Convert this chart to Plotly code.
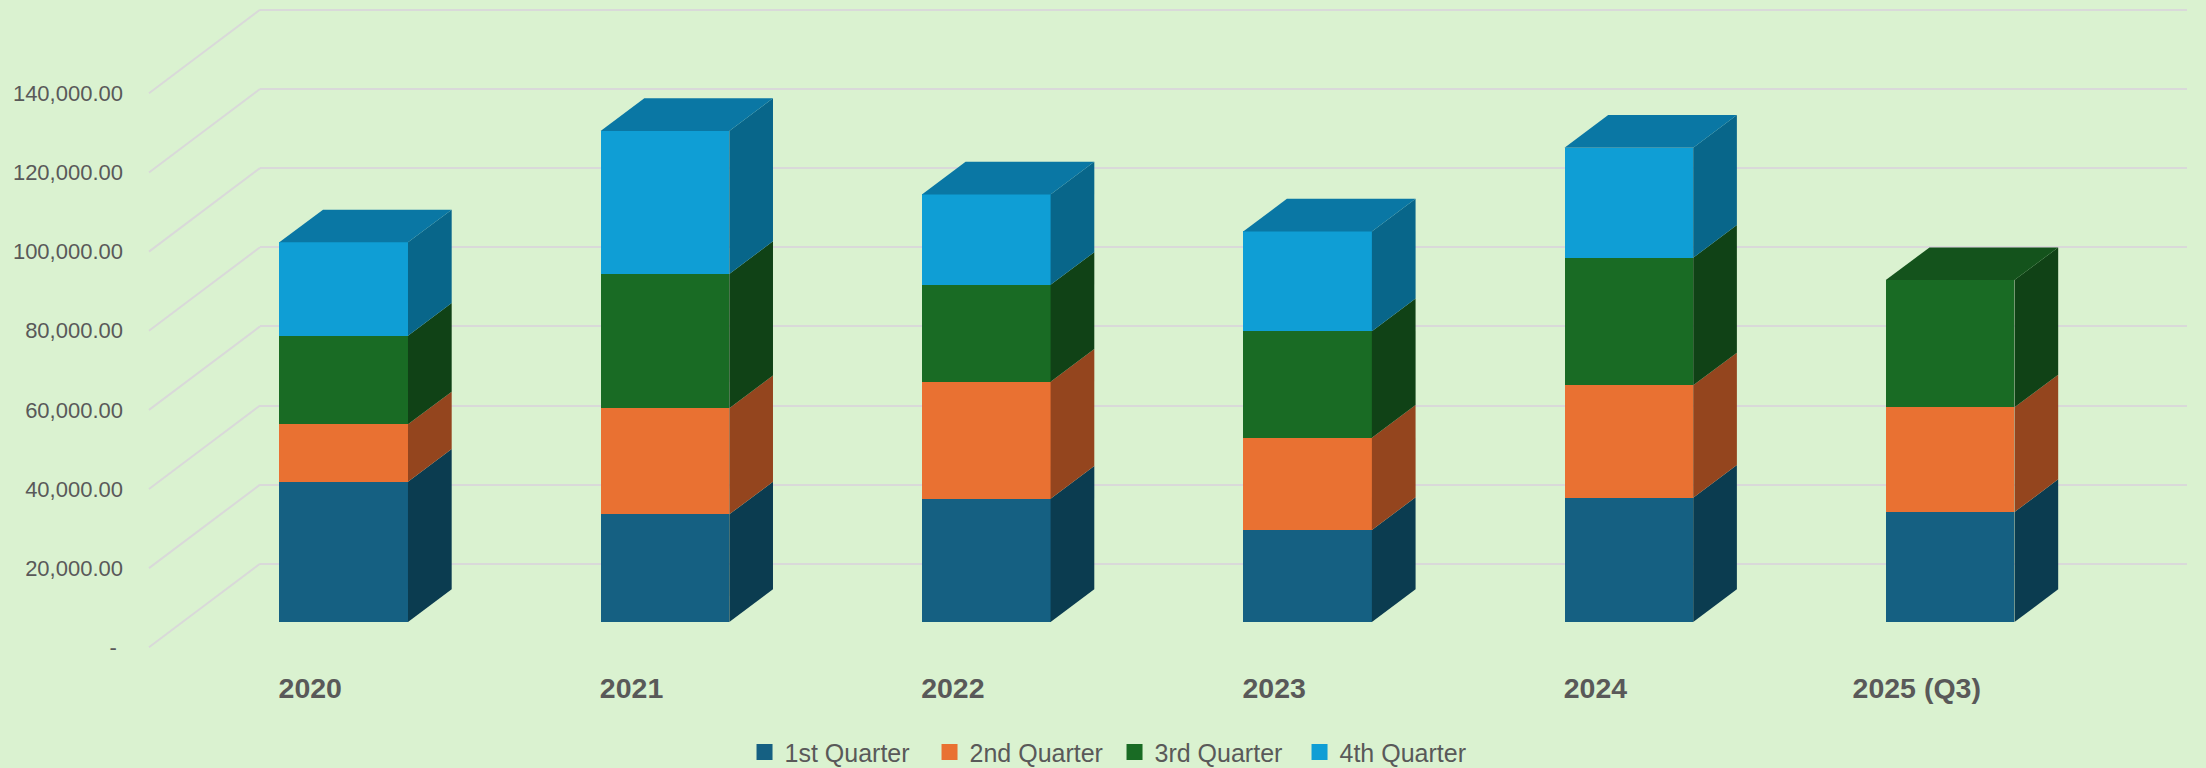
import plotly.graph_objects as go

W, H = 2206, 768

years = ["2020", "2021", "2022", "2023", "2024", "2025 (Q3)"]
series = ["1st Quarter", "2nd Quarter", "3rd Quarter", "4th Quarter"]
q1 = [35450, 27200, 31150, 23250, 31400, 27800]
q2 = [14500, 26800, 29550, 23300, 28400, 26450]
q3 = [22400, 33950, 24500, 26950, 32250, 32150]
q4 = [23600, 36150, 22850, 25200, 27800, 0]
values = [q1, q2, q3, q4]

front = ["#156082", "#E97132", "#196B24", "#0F9ED5"]
side = ["#0B3C50", "#94451E", "#104216", "#08668A"]
top = ["#0E4A64", "#B5561F", "#14531C", "#0A77A4"]
bg = "#DAF2D0"
grid = "#D9D9D9"
text = "#595959"
ticks = [0, 20000, 40000, 60000, 80000, 100000, 120000, 140000]
tick_text = ["-\u00a0" if t == 0 else f"{t:,.2f}" for t in ticks]

# pixel geometry of the oblique projection
px_step = 321.3          # pixels between categories
center0 = 343.65         # pixel x of first bar's centre
bar_frac = 0.4005        # bar width in category units
units_per_px = 20000 / 79.14
base_px = 622.0          # bars' front baseline
front_zero_px = 647.3    # floor front edge
back_zero_px = 563.8     # floor back edge
wall_l, wall_r = 260.0, 2187.0
front_l = 149.0
bar_dx = 43.7 / px_step
bar_dy = 32.7 * units_per_px

x_of = lambda px: (px - center0) / px_step
y_range = lambda zero_px: [(zero_px - H) * units_per_px, zero_px * units_per_px]

fig = go.Figure()

# back wall gridlines (first subplot, so it sits behind the bars)
fig.add_trace(go.Scatter(x=[0, 1], y=[0, 0], mode="markers", marker=dict(opacity=0),
                         xaxis="x", yaxis="y", showlegend=False, hoverinfo="skip"))

# left wall diagonals
wall_dy = (front_zero_px - back_zero_px) * units_per_px
for t in ticks:
    fig.add_trace(go.Scatter(x=[x_of(front_l), x_of(wall_l)], y=[t, t + wall_dy], mode="lines",
                             line=dict(color=grid, width=2), xaxis="x2", yaxis="y3",
                             showlegend=False, hoverinfo="skip"))

# stacked fronts
idx = list(range(len(years)))
for name, vals, col in zip(series, values, front):
    fig.add_trace(go.Bar(x=idx, y=vals, width=bar_frac, name=name, marker=dict(color=col, line=dict(width=0)),
                         xaxis="x2", yaxis="y2", showlegend=False))

# oblique side and top faces
def poly(xs, ys, col):
    fig.add_trace(go.Scatter(x=xs, y=ys, mode="lines", fill="toself", fillcolor=col,
                             line=dict(width=0, color=col), xaxis="x2", yaxis="y2",
                             showlegend=False, hoverinfo="skip"))

for i in idx:
    lo = 0
    x0, x1 = i - bar_frac / 2, i + bar_frac / 2
    last = None
    for s in range(4):
        v = values[s][i]
        if not v:
            continue
        hi = lo + v
        poly([x1, x1 + bar_dx, x1 + bar_dx, x1, x1], [lo, lo + bar_dy, hi + bar_dy, hi, lo], side[s])
        lo, last = hi, s
    poly([x0, x1, x1 + bar_dx, x0 + bar_dx, x0], [lo, lo, lo + bar_dy, lo + bar_dy, lo], top[last])

# legend entries
for name, col in zip(series, front):
    fig.add_trace(go.Scatter(x=[None], y=[None], mode="markers", name=name,
                             marker=dict(symbol="square", size=16, color=col),
                             xaxis="x2", yaxis="y2"))

# wall axis is padded so Plotly keeps the 0 and 140,000 gridlines
wall_pad = 2000
wall_px_top = back_zero_px - (140000 + wall_pad) / units_per_px
wall_px_bot = back_zero_px + wall_pad / units_per_px

fig.update_layout(
    width=W, height=H, autosize=False,
    margin=dict(l=0, r=0, t=0, b=0, autoexpand=False),
    paper_bgcolor=bg, plot_bgcolor="rgba(0,0,0,0)",
    barmode="stack", bargap=0,
    font=dict(family="Liberation Sans", color=text),
    showlegend=True,
    legend=dict(orientation="h", x=0.3375, xanchor="left", y=0.0505, yanchor="top",
                traceorder="normal",
                font=dict(size=25, color=text), bgcolor="rgba(0,0,0,0)",
                entrywidth=140, entrywidthmode="pixels"),
    xaxis=dict(domain=[wall_l / W, wall_r / W], range=[0, 1], showgrid=False, zeroline=False,
               showticklabels=False, ticks=""),
    yaxis=dict(domain=[(H - wall_px_bot) / H, (H - wall_px_top) / H],
               range=[-wall_pad, 140000 + wall_pad], tickvals=ticks, showgrid=True, gridcolor=grid, gridwidth=2,
               zeroline=False, showticklabels=False, ticks=""),
    xaxis2=dict(domain=[0, 1], range=[x_of(0), x_of(W)], anchor="free", position=(H - 668) / H,
                tickvals=[i - 0.104 for i in idx], ticktext=years, showgrid=False, zeroline=False,
                showline=False, ticks="", tickfont=dict(size=28.5, color=text, family="Liberation Sans", weight="bold")),
    yaxis2=dict(domain=[0, 1], range=y_range(base_px), showgrid=False, zeroline=False,
                showticklabels=False, ticks="", anchor="x2"),
    yaxis3=dict(domain=[0, 1], range=y_range(front_zero_px), overlaying="y2", anchor="free",
                position=123 / W, side="left", tickvals=ticks, ticktext=tick_text, showgrid=False,
                zeroline=False, showline=False, ticks="", tickfont=dict(size=22, color=text)),
)

fig.write_html("out.html", config=dict(displayModeBar=False),
               post_script="document.body.style.margin='0';document.body.style.background='#DAF2D0';document.documentElement.style.overflow='hidden';")
